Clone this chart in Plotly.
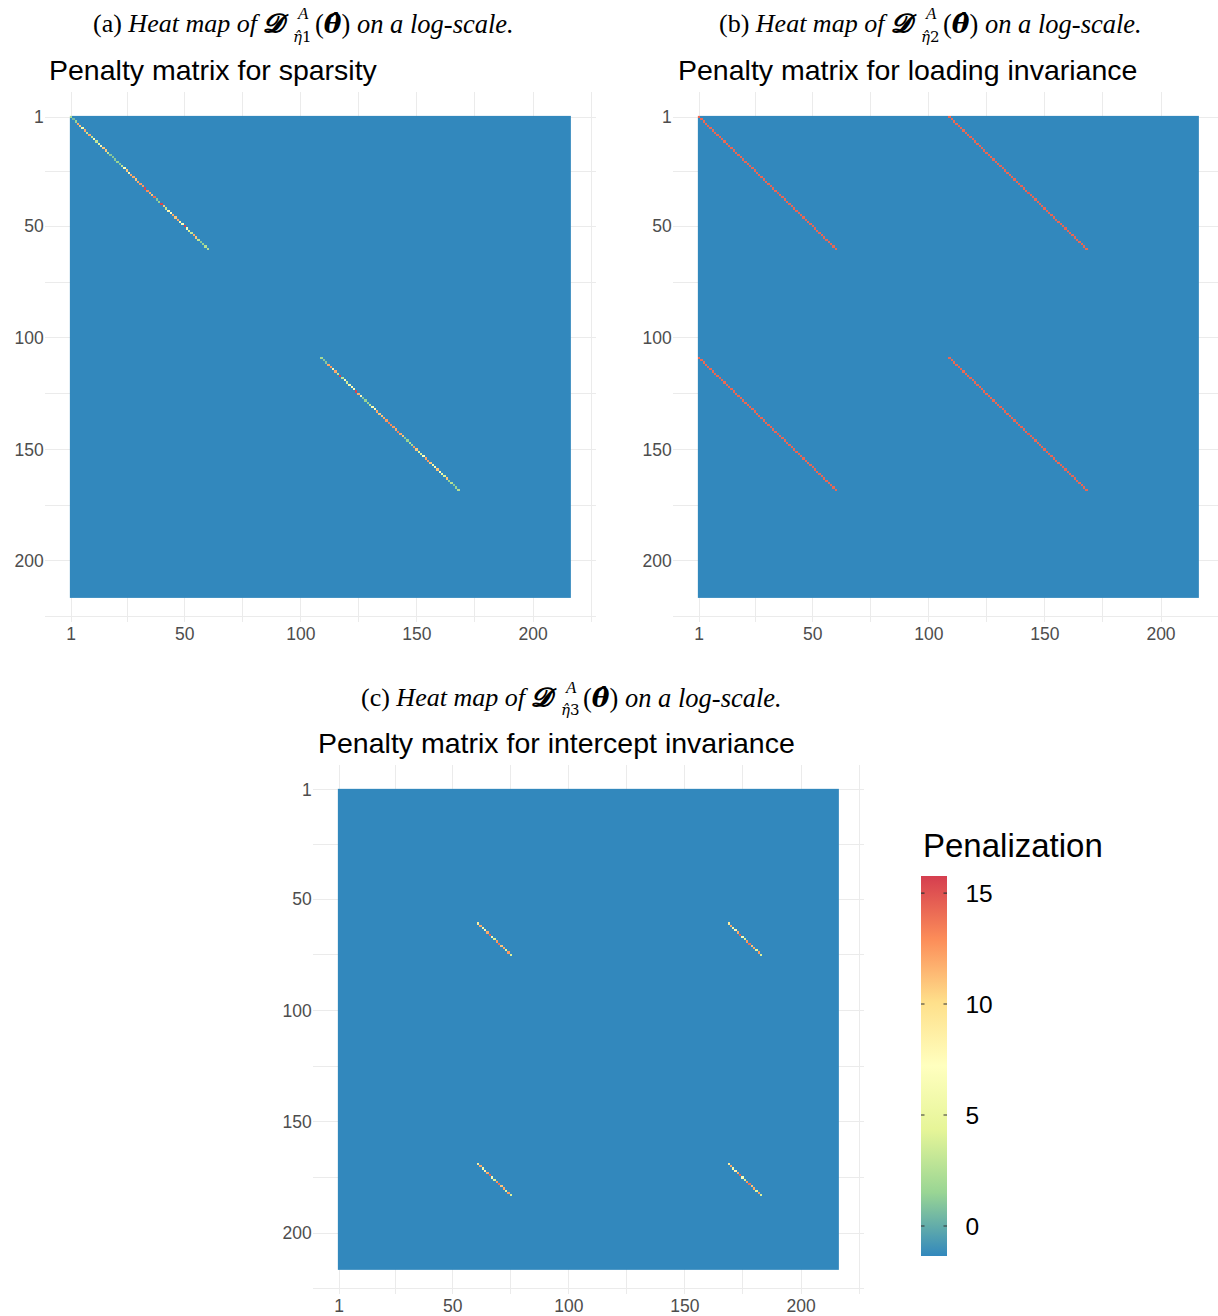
import numpy as np
import plotly.graph_objects as go

# ---- data -------------------------------------------------------------
n_params = 216                      # size of the (square) penalty matrices
background = -1.35                  # log-penalty of the unpenalised entries
z_max = 15.77
axis_ticks = [1, 50, 100, 150, 200]
minor_ticks = [25.5, 75, 125, 175, 225]
colorbar_ticks = [0, 5, 10, 15]

# diagonal log-penalties of the sparsity matrix, one list per group
sparsity_starts = [1, 109]
sparsity_group1 = [2, 0.5, 1.5, 12, 11, 6, 12, 3, 12, 3,
                   7, 3, 5, 8, 11, 11, 3, 1, 1, 1,
                   1.5, 1, 3, 7, 11, 8, 12, 12, 11, 12,
                   12.5, 12.5, 15.5, 13, 12, 11, 14, 1, 1.5, 15.5,
                   11, 3, 8, 7.5, 12, 11, 12, 8, 7, 15.5,
                   7, 4, 3, 12, 11, 3, 1, 1.5, 2.5, 2.5]
sparsity_group2 = [2, 1, 1, 12, 12.5, 8, 12, 3, 15.5, 3,
                   7, 3.5, 6, 7.5, 7, 15.5, 12, 7.5, 1, 1.5,
                   1.5, 3, 6.5, 7.5, 12, 11, 11, 12, 12.5, 13.5,
                   13, 12.5, 12, 13.5, 12, 11, 1, 1.5, 2.5, 2,
                   12.5, 11, 4.5, 4, 7, 12, 12.5, 11, 6, 7.5,
                   11, 7, 5.5, 4, 11, 1.5, 2.5, 1, 1.5, 2.5]

# loading-invariance penalties (same weights in every group pair)
loading_starts = [1, 109]
loading_values = [14.3, 14.3, 14.2, 14.3, 14.4, 14.3, 14.2, 14.3, 14.3, 14.4,
                  14.3, 14.2, 14.3, 14.3, 14.3, 14.4, 14.3, 14.3, 14.2, 14.3,
                  14.3, 14.3, 14.4, 14.3, 14.3, 14.3, 14.2, 14.3, 14.3, 14.3,
                  14.3, 14.4, 14.3, 14.3, 14.8, 14.3, 14.3, 14.2, 14.3, 14.3,
                  14.3, 14.3, 14.4, 14.3, 14.3, 14.3, 14.3, 14.2, 14.3, 14.3,
                  14.4, 14.3, 14.3, 14.3, 14.3, 14.3, 14.2, 14.3, 14.3, 14.3]

# intercept-invariance penalties
intercept_starts = [61, 169]
intercept_values = [9, 12, 6, 8, 12, 14.5, 6.5, 4, 12.5, 14,
                    11, 12, 4.5, 12.5, 4]

spectral = ["#3288BD", "#99D594", "#E6F598", "#FFFFBF",
            "#FEE08B", "#FC8D59", "#D53E4F"]

W, H = 1218, 1316
SANS = "Liberation Sans, Arial, sans-serif"
SERIF = "Liberation Serif, Times New Roman, serif"
MATH = "DejaVu Serif, serif"


def fx(px):
    return px / W


def fy(py):
    return 1 - py / H


def penalty_matrix(blocks):
    m = np.full((n_params, n_params), background)
    for r0, c0, vals in blocks:
        for k, v in enumerate(vals):
            m[r0 - 1 + k, c0 - 1 + k] = v
    return m


mat_a = penalty_matrix([(sparsity_starts[0], sparsity_starts[0], sparsity_group1),
                        (sparsity_starts[1], sparsity_starts[1], sparsity_group2)])
mat_b = penalty_matrix([(r, c, loading_values)
                        for r in loading_starts for c in loading_starts])
mat_c = penalty_matrix([(r, c, intercept_values)
                        for r in intercept_starts for c in intercept_starts])

idx = list(range(1, n_params + 1))

fig = go.Figure()
for mat, xa, ya in [(mat_a, "x", "y"), (mat_b, "x2", "y2"), (mat_c, "x3", "y3")]:
    fig.add_trace(go.Heatmap(z=mat, x=idx, y=idx, xaxis=xa, yaxis=ya,
                             coloraxis="coloraxis", zsmooth=False,
                             hoverinfo="skip"))

tick_font = dict(family=SANS, size=17.5, color="#4D4D4D")


def axis_style(rng, domain, anchor):
    return dict(domain=domain, range=rng, anchor=anchor, tickmode="array",
                tickvals=axis_ticks, ticktext=[str(t) for t in axis_ticks],
                showgrid=True, gridcolor="#EBEBEB", gridwidth=1.2, zeroline=False,
                showline=False, ticks="", tickfont=tick_font,
                minor=dict(tickmode="array", tickvals=minor_ticks, showgrid=True,
                           gridcolor="#EBEBEB", gridwidth=0.8, ticks=""))


lo, hi = -10.3, 227.3
xa_dom = [fx(44.8), fx(596.4)]
xb_dom = [fx(672.8), 1.0]
xc_dom = [fx(312.8), fx(864.4)]
yab_dom = [fy(621.9), fy(91.8)]
yc_dom = [fy(1293.8), fy(764.8)]
xb_hi = 1 + (W - 699) / 2.3216

# colour bar geometry (pixels)
cb_left, cb_top, cb_bottom, cb_width = 921, 876, 1256, 26

fig.update_layout(
    width=W, height=H, margin=dict(l=0, r=0, t=0, b=0),
    paper_bgcolor="white", plot_bgcolor="white", showlegend=False,
    xaxis=axis_style([lo, hi], xa_dom, "y"),
    yaxis=axis_style([hi, lo], yab_dom, "x"),
    xaxis2=axis_style([lo, xb_hi], xb_dom, "y2"),
    yaxis2=axis_style([hi, lo], yab_dom, "x2"),
    xaxis3=axis_style([lo, hi], xc_dom, "y3"),
    yaxis3=axis_style([hi, lo], yc_dom, "x3"),
    coloraxis=dict(
        cmin=background, cmax=z_max,
        colorscale=[[i / 6, c] for i, c in enumerate(spectral)],
        colorbar=dict(
            x=fx(cb_left), xanchor="left", xpad=0,
            y=fy((cb_top + cb_bottom) / 2), yanchor="middle", ypad=0,
            len=cb_bottom - cb_top, lenmode="pixels",
            thickness=cb_width, thicknessmode="pixels",
            outlinewidth=0, tickmode="array", tickvals=colorbar_ticks,
            ticks="outside", ticklen=14, tickcolor="rgba(0,0,0,0)",
            tickfont=dict(family=SANS, size=24.5, color="black"),
        ),
    ),
)

# short dark tick marks on both edges of the colour bar
for v in colorbar_ticks:
    yv = cb_bottom - (v - background) / (z_max - background) * (cb_bottom - cb_top)
    for xe, off in ((cb_left, 5), (cb_left + cb_width, -5)):
        fig.add_annotation(text="", x=fx(xe), y=fy(yv), xref="paper", yref="paper",
                           showarrow=True, arrowhead=0, arrowwidth=1.1,
                           arrowcolor="#333333", ax=off, ay=0, standoff=0,
                           startstandoff=0)

fig.add_annotation(text="Penalization", x=fx(921), y=fy(845), xref="paper", yref="paper",
                   xanchor="left", yanchor="middle", showarrow=False,
                   font=dict(family=SANS, size=33, color="black"))

title_font = dict(family=SANS, size=28.5, color="black")
titles = [("Penalty matrix for sparsity", 47, 70),
          ("Penalty matrix for loading invariance", 676, 70),
          ("Penalty matrix for intercept invariance", 316, 743)]
for text, x, y in titles:
    fig.add_annotation(text=text, x=fx(x), y=fy(y), xref="paper", yref="paper",
                       xanchor="left", yanchor="middle", showarrow=False, font=title_font)

# sub-figure captions: text before the operator, stacked indices, text after
cap_font = dict(family=SERIF, size=26.5, color="black")


def add_caption(tag, k, dx, dy):
    fig.add_annotation(text=f"({tag}) <i>Heat map of</i> <b><i>𝓓</i></b>",
                       x=fx(291 + dx), y=fy(24 + dy), xref="paper", yref="paper",
                       xanchor="right", yanchor="middle", showarrow=False,
                       font=dict(family=SERIF, size=26, color="black"))
    fig.add_annotation(text=f"<i>η̂</i>{k}", x=fx(291 + dx), y=fy(37 + dy),
                       xref="paper", yref="paper", xanchor="left", yanchor="middle",
                       showarrow=False, font=dict(family=MATH, size=15, color="black"))
    fig.add_annotation(text="<i>A</i>", x=fx(295 + dx), y=fy(14 + dy),
                       xref="paper", yref="paper", xanchor="left", yanchor="middle",
                       showarrow=False, font=dict(family=SERIF, size=17, color="black"))
    fig.add_annotation(text=(f"(<span style=\"font-family:{MATH}\"><b><i>θ̂</i></b></span>)"
                             " <i>on a log-scale.</i>"),
                       x=fx(313 + dx), y=fy(24 + dy), xref="paper", yref="paper",
                       xanchor="left", yanchor="middle", showarrow=False, font=cap_font)


add_caption("a", 1, 0, 0)
add_caption("b", 2, 628, 0)
add_caption("c", 3, 268, 673)

fig.write_html("out.html")
